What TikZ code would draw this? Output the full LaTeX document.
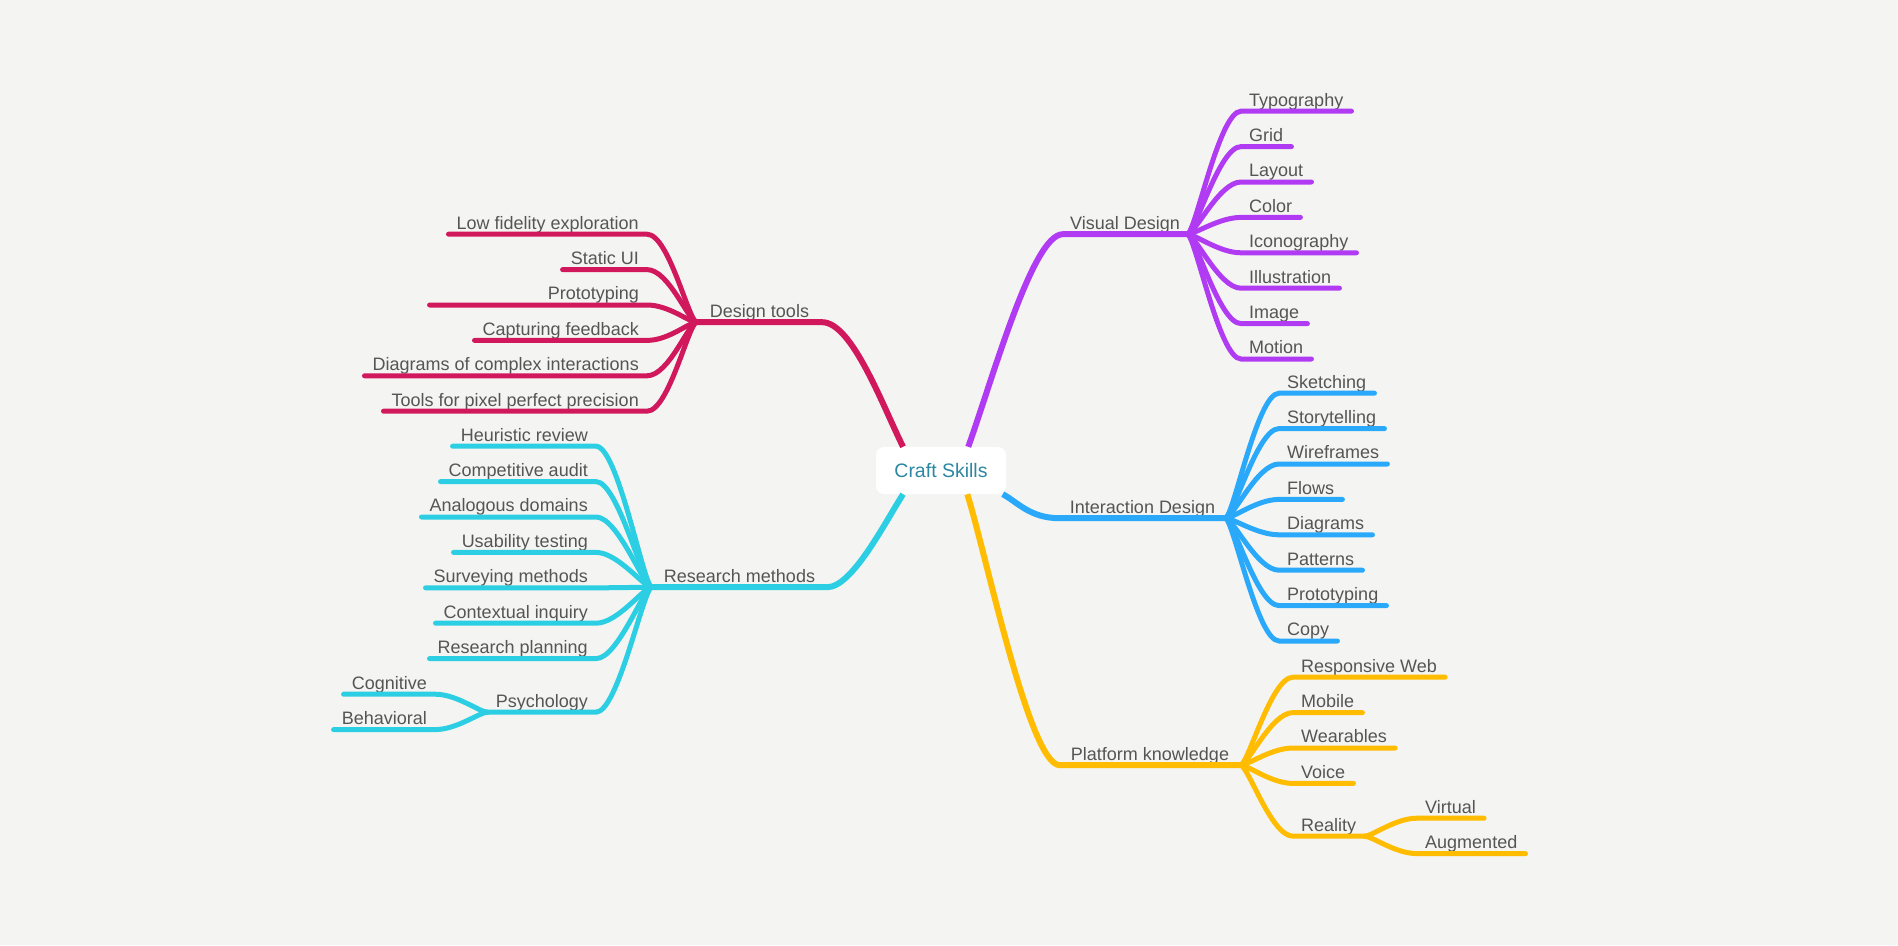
\documentclass[tikz,border=0pt]{standalone}
\usepackage{fontspec}
\setmainfont{Liberation Sans}
\usepackage{xcolor}
\usetikzlibrary{positioning}

\definecolor{bgcol}{HTML}{F4F5F2}
\definecolor{txtgray}{HTML}{555555}
\definecolor{rootcol}{HTML}{2D87A2}
\definecolor{dtcol}{HTML}{D2185C}
\definecolor{vdcol}{HTML}{B13BF2}
\definecolor{rmcol}{HTML}{2BCEE2}
\definecolor{idcol}{HTML}{2AA9FB}
\definecolor{pkcol}{HTML}{FFBC00}

\newcommand{\leaffont}{\fontsize{18}{20}\selectfont}
\newcommand{\rootfont}{\fontsize{19.5}{22}\selectfont}

\begin{document}
\begin{tikzpicture}[x=1pt,y=-1pt,node distance=35.4pt,
  root/.style={fill=white,rounded corners=8pt,minimum width=130pt,minimum height=47pt,font=\rootfont,text=rootcol},
  leaf/.style={font=\leaffont,text=txtgray,inner xsep=8pt,inner ysep=5pt,text depth=0pt},
  leafR/.style={leaf,anchor=base west},
  leafL/.style={leaf,anchor=base east},
  belowR/.style={below=of #1.base west,anchor=base west},
  belowL/.style={below=of #1.base east,anchor=base east},
  hub/.style={font=\leaffont,text=txtgray,inner xsep=0pt,inner ysep=5pt,text depth=0pt,minimum width=#1,anchor=base},
  trunk/.style={line width=6pt},
  twig/.style={line width=5pt,line cap=round},
  rtwig/.style={twig,to path={.. controls +(8,0) and +(-22,0) .. (\tikztotarget)}},
  ltwig/.style={twig,to path={.. controls +(-8,0) and +(22,0) .. (\tikztotarget)}}]

  \fill[bgcol] (0,0) rectangle (1898,945);
  \useasboundingbox (0,0) rectangle (1898,945);

  % centre
  \node[root] (craft) at (941,470.5) {Craft Skills};

  % main topics
  \node[hub=125pt] (dtools) at (759.5,317) {Design tools};
  \node[hub=124pt] (visual) at (1125,229) {Visual Design};
  \node[hub=175pt] (research) at (739.5,582) {Research methods};
  \node[hub=165pt] (inter) at (1142.5,513) {Interaction Design};
  \node[hub=180pt] (platform) at (1150,760) {Platform knowledge};

  \draw[trunk,vdcol] (craft.41) .. controls +(25,-70) and +(-30,0) .. (visual.south west) -- (visual.south east);
  \draw[trunk,dtcol] (craft.148) .. controls +(-20,-40) and +(30,0) .. (dtools.south east) -- (dtools.south west);
  \draw[trunk,rmcol] (craft.-148) .. controls +(-18,28) and +(25,0) .. (research.south east) -- (research.south west);
  \draw[trunk,idcol] (craft.-21) .. controls +(15,8) and +(-30,0) .. (inter.south west) -- (inter.south east);
  \draw[trunk,pkcol] (craft.-42) .. controls +(20,65) and +(-30,0) .. (platform.south west) -- (platform.south east);

  % visual design
  \node[leafR] (typo) at (1241,106) {Typography};
  \node[leafR,belowR=typo] (grid) {Grid};
  \node[leafR,belowR=grid] (layout) {Layout};
  \node[leafR,belowR=layout] (color) {Color};
  \node[leafR,belowR=color] (icons) {Iconography};
  \node[leafR,belowR=icons] (illu) {Illustration};
  \node[leafR,belowR=illu] (image) {Image};
  \node[leafR,belowR=image] (motion) {Motion};
  \draw[rtwig,vdcol] (visual.south east) to (typo.south west) -- (typo.south east);
  \draw[rtwig,vdcol] (visual.south east) to (grid.south west) -- (grid.south east);
  \draw[rtwig,vdcol] (visual.south east) to (layout.south west) -- (layout.south east);
  \draw[rtwig,vdcol] (visual.south east) to (color.south west) -- (color.south east);
  \draw[rtwig,vdcol] (visual.south east) to (icons.south west) -- (icons.south east);
  \draw[rtwig,vdcol] (visual.south east) to (illu.south west) -- (illu.south east);
  \draw[rtwig,vdcol] (visual.south east) to (image.south west) -- (image.south east);
  \draw[rtwig,vdcol] (visual.south east) to (motion.south west) -- (motion.south east);

  % interaction design
  \node[leafR] (sketch) at (1279,388) {Sketching};
  \node[leafR,belowR=sketch] (story) {Storytelling};
  \node[leafR,belowR=story] (wire) {Wireframes};
  \node[leafR,belowR=wire] (flows) {Flows};
  \node[leafR,belowR=flows] (diag) {Diagrams};
  \node[leafR,belowR=diag] (patt) {Patterns};
  \node[leafR,belowR=patt] (proto) {Prototyping};
  \node[leafR,belowR=proto] (copy) {Copy};
  \draw[rtwig,idcol] (inter.south east) to (sketch.south west) -- (sketch.south east);
  \draw[rtwig,idcol] (inter.south east) to (story.south west) -- (story.south east);
  \draw[rtwig,idcol] (inter.south east) to (wire.south west) -- (wire.south east);
  \draw[rtwig,idcol] (inter.south east) to (flows.south west) -- (flows.south east);
  \draw[rtwig,idcol] (inter.south east) to (diag.south west) -- (diag.south east);
  \draw[rtwig,idcol] (inter.south east) to (patt.south west) -- (patt.south east);
  \draw[rtwig,idcol] (inter.south east) to (proto.south west) -- (proto.south east);
  \draw[rtwig,idcol] (inter.south east) to (copy.south west) -- (copy.south east);

  % platform knowledge
  \node[leafR] (web) at (1293,672) {Responsive Web};
  \node[leafR,belowR=web] (mobile) {Mobile};
  \node[leafR,belowR=mobile] (wear) {Wearables};
  \node[leafR,belowR=wear] (voice) {Voice};
  \node[leafR] (reality) at (1293,831) {Reality};
  \node[leafR] (virtual) at (1417,813) {Virtual};
  \node[leafR,belowR=virtual] (augm) {Augmented};
  \draw[rtwig,pkcol] (platform.south east) to (web.south west) -- (web.south east);
  \draw[rtwig,pkcol] (platform.south east) to (mobile.south west) -- (mobile.south east);
  \draw[rtwig,pkcol] (platform.south east) to (wear.south west) -- (wear.south east);
  \draw[rtwig,pkcol] (platform.south east) to (voice.south west) -- (voice.south east);
  \draw[rtwig,pkcol] (platform.south east) to (reality.south west) -- (reality.south east);
  \draw[rtwig,pkcol] (reality.south east) to (virtual.south west) -- (virtual.south east);
  \draw[rtwig,pkcol] (reality.south east) to (augm.south west) -- (augm.south east);

  % design tools
  \node[leafL] (lowfi) at (647,229) {Low fidelity exploration};
  \node[leafL,belowL=lowfi] (static) {Static UI};
  \node[leafL,belowL=static,text width=201pt,align=right] (dproto) {Prototyping};
  \node[leafL,belowL=dproto] (feedback) {Capturing feedback};
  \node[leafL,belowL=feedback] (complex) {Diagrams of complex interactions};
  \node[leafL,belowL=complex] (pixel) {Tools for pixel perfect precision};
  \draw[ltwig,dtcol] (dtools.south west) to (lowfi.south east) -- (lowfi.south west);
  \draw[ltwig,dtcol] (dtools.south west) to (static.south east) -- (static.south west);
  \draw[ltwig,dtcol] (dtools.south west) to (dproto.south east) -- (dproto.south west);
  \draw[ltwig,dtcol] (dtools.south west) to (feedback.south east) -- (feedback.south west);
  \draw[ltwig,dtcol] (dtools.south west) to (complex.south east) -- (complex.south west);
  \draw[ltwig,dtcol] (dtools.south west) to (pixel.south east) -- (pixel.south west);

  % research methods
  \node[leafL] (heur) at (596,441) {Heuristic review};
  \node[leafL,belowL=heur] (audit) {Competitive audit};
  \node[leafL,belowL=audit] (analog) {Analogous domains};
  \node[leafL,belowL=analog] (usab) {Usability testing};
  \node[leafL,belowL=usab] (survey) {Surveying methods};
  \node[leafL,belowL=survey] (context) {Contextual inquiry};
  \node[leafL,belowL=context] (plan) {Research planning};
  \node[leafL] (psych) at (596,707) {Psychology};
  \node[leafL] (cogn) at (435,689) {Cognitive};
  \node[leafL,belowL=cogn] (behav) {Behavioral};
  \draw[ltwig,rmcol] (research.south west) to (heur.south east) -- (heur.south west);
  \draw[ltwig,rmcol] (research.south west) to (audit.south east) -- (audit.south west);
  \draw[ltwig,rmcol] (research.south west) to (analog.south east) -- (analog.south west);
  \draw[ltwig,rmcol] (research.south west) to (usab.south east) -- (usab.south west);
  \draw[ltwig,rmcol] (research.south west) to (survey.south east) -- (survey.south west);
  \draw[ltwig,rmcol] (research.south west) to (context.south east) -- (context.south west);
  \draw[ltwig,rmcol] (research.south west) to (plan.south east) -- (plan.south west);
  \draw[ltwig,rmcol] (research.south west) to (psych.south east) -- (psych.south west);
  \draw[ltwig,rmcol] (psych.south west) to (cogn.south east) -- (cogn.south west);
  \draw[ltwig,rmcol] (psych.south west) to (behav.south east) -- (behav.south west);
\end{tikzpicture}
\end{document}
